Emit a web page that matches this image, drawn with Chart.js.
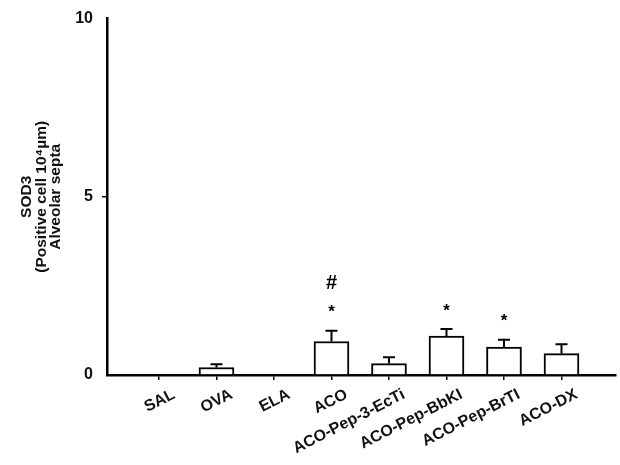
<!DOCTYPE html>
<html>
<head>
<meta charset="utf-8">
<script src="https://cdn.jsdelivr.net/npm/chart.js@4.4.1/dist/chart.umd.min.js"></script>
<style>
  html, body { margin: 0; padding: 0; background: #ffffff; }
  #wrap { width: 620px; height: 465px; position: relative; }
</style>
</head>
<body>
<div id="wrap"><canvas id="c" width="620" height="465"></canvas></div>
<script>
// ---- data ----
const categories = ['SAL', 'OVA', 'ELA', 'ACO', 'ACO-Pep-3-EcTi', 'ACO-Pep-BbKI', 'ACO-Pep-BrTI', 'ACO-DX'];
const means  = [0, 0.21, 0, 0.94, 0.32, 1.09, 0.78, 0.60];
const errors = [0, 0.09, 0, 0.30, 0.18, 0.20, 0.21, 0.26];
const stars  = ['', '', '', '*', '', '*', '*', ''];
const hashes = ['', '', '', '#', '', '', '', ''];
const yTicks = [0, 5, 10];
const yTitle = ['SOD3', '(Positive cell 10\u2074\u00b5m)', 'Alveolar septa'];

const FONT = "'Liberation Sans', Arial, sans-serif";

const errorBarPlugin = {
  id: 'errorBars',
  afterDatasetsDraw(chart) {
    const ctx = chart.ctx;
    const xs = chart.scales.x, ys = chart.scales.y;
    ctx.save();
    ctx.strokeStyle = '#000';
    ctx.lineWidth = 2;
    means.forEach((m, i) => {
      if (!errors[i]) return;
      const x = xs.getPixelForValue(i);
      const y0 = ys.getPixelForValue(m);
      const y1 = ys.getPixelForValue(m + errors[i]);
      ctx.beginPath();
      ctx.moveTo(x, y0);
      ctx.lineTo(x, y1);
      ctx.moveTo(x - 6, y1);
      ctx.lineTo(x + 6, y1);
      ctx.stroke();
    });
    // significance marks
    ctx.fillStyle = '#000';
    ctx.textAlign = 'center';
    ctx.textBaseline = 'middle';
    means.forEach((m, i) => {
      const x = xs.getPixelForValue(i);
      const top = ys.getPixelForValue(m + errors[i]);
      if (stars[i]) {
        ctx.font = 'bold 17px ' + FONT;
        ctx.fillText(stars[i], x, top - 18);
      }
      if (hashes[i]) {
        ctx.font = 'bold 20px ' + FONT;
        ctx.fillText(hashes[i], x, top - 47);
      }
    });
    ctx.restore();
  }
};

new Chart(document.getElementById('c'), {
  type: 'bar',
  data: {
    datasets: [{
      data: means.map((v, i) => ({ x: i, y: v })),
      backgroundColor: '#ffffff',
      borderColor: '#000000',
      borderWidth: 2,
      borderSkipped: 'start',
      barThickness: 35
    }]
  },
  options: {
    responsive: false,
    animation: false,
    events: [],
    layout: { padding: { top: 10, right: 4, left: 0, bottom: 0 } },
    plugins: { legend: { display: false }, tooltip: { enabled: false } },
    scales: {
      x: {
        type: 'linear',
        offset: false,
        min: -0.904,
        max: 7.948,
        afterBuildTicks: (scale) => { scale.ticks = categories.map((_, i) => ({ value: i })); },
        afterFit: (scale) => { scale.height = 90; },
        grid: { display: true, drawOnChartArea: false, drawTicks: true, tickLength: 5, color: '#000', lineWidth: 1.5, offset: false },
        border: { display: true, color: '#000', width: 2.5 },
        ticks: {
          autoSkip: false,
          maxRotation: 27,
          minRotation: 27,
          labelOffset: 15,
          padding: 5,
          color: '#111',
          font: { family: FONT, size: 16, weight: 'bold' },
          callback: (v) => categories[v] !== undefined ? categories[v] : ''
        }
      },
      y: {
        min: 0,
        max: 10,
        afterBuildTicks: (scale) => { scale.ticks = yTicks.map(v => ({ value: v })); },
        afterFit: (scale) => { scale.width = 107; },
        grid: {
          display: true, drawOnChartArea: false, drawTicks: true, tickLength: 5, lineWidth: 1.5,
          tickColor: (ctx) => (ctx.tick && ctx.tick.value === 5) ? '#000' : 'rgba(0,0,0,0)'
        },
        border: { display: true, color: '#000', width: 2.5 },
        ticks: {
          padding: 9,
          color: '#111',
          font: { family: FONT, size: 16, weight: 'bold' }
        },
        title: {
          display: true,
          text: yTitle,
          color: '#111',
          font: { family: FONT, size: 15.5, weight: 'bold', lineHeight: 0.92 },
          padding: { top: 20, bottom: 0 }
        }
      }
    }
  },
  plugins: [errorBarPlugin]
});
</script>
</body>
</html>
